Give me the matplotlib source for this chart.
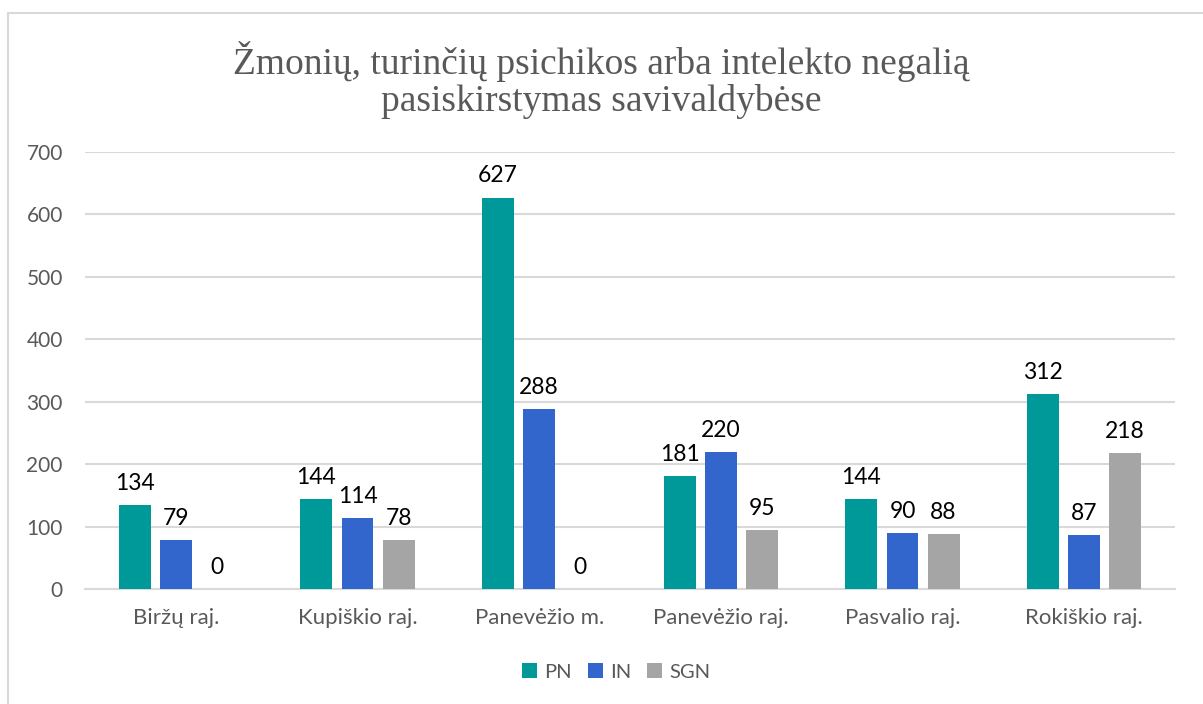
import matplotlib
matplotlib.use("Agg")
import matplotlib.pyplot as plt
import numpy as np
from matplotlib.patches import Rectangle

categories = ["Biržų raj.", "Kupiškio raj.", "Panevėžio m.", "Panevėžio raj.", "Pasvalio raj.", "Rokiškio raj."]
series_names = ["PN", "IN", "SGN"]
pn = [134, 144, 627, 181, 144, 312]
in_ = [79, 114, 288, 220, 90, 87]
sgn = [0, 78, 0, 95, 88, 218]
yticks = [0, 100, 200, 300, 400, 500, 600, 700]
title = "Žmonių, turinčių psichikos arba intelekto negalią\npasiskirstymas savivaldybėse"

colors = ["#009999", "#3366CC", "#A5A5A5"]
label_color = "#595959"
sans = ["Lato", "DejaVu Sans"]

fig = plt.figure(figsize=(12.03, 7.04), dpi=100)
# chart frame
fig.patches.append(Rectangle((8/1203, -0.05), 1.1, 1 - 13/704 + 0.05, transform=fig.transFigure,
                             fill=False, edgecolor="#D9D9D9", linewidth=1.5))

ax = fig.add_axes([85/1203, 1 - 589/704, (1175-85)/1203, (589-152)/704])
x = np.arange(len(categories))
width = 0.176
step = 0.226
data = [pn, in_, sgn]
for i, (vals, name, c) in enumerate(zip(data, series_names, colors)):
    pos = x + (i - 1) * step
    bars = ax.bar(pos, vals, width, color=c, label=name, zorder=3)
    for b, v in zip(bars, vals):
        ax.annotate(str(v), (b.get_x() + b.get_width()/2, v), xytext=(0, 8),
                    textcoords="offset points", ha="center", va="bottom",
                    fontsize=16.5, color="black", family=sans)

ax.set_xlim(-0.5, len(categories) - 0.5)
ax.set_ylim(0, 700)
ax.set_yticks(yticks)
ax.set_yticklabels([str(t) for t in yticks], fontsize=15, color=label_color, family=sans)
ax.set_xticks(x)
ax.set_xticklabels(categories, fontsize=16, color=label_color, family=sans)
ax.tick_params(axis="both", length=0)
ax.tick_params(axis="y", pad=16)
ax.tick_params(axis="x", pad=14)
ax.grid(axis="y", color="#D9D9D9", linewidth=1.5, zorder=0)
for s in ["top", "right", "left"]:
    ax.spines[s].set_visible(False)
ax.spines["bottom"].set_color("#D9D9D9")
ax.spines["bottom"].set_linewidth(1.5)

fig.text(0.5, 1 - 80/704, title, ha="center", va="center", fontsize=27,
         color=label_color, family=["Liberation Serif"], linespacing=1.08)

leg = fig.legend(loc="center", bbox_to_anchor=(616/1203, 1 - 672/704), ncol=3, frameon=False,
                 prop={"family": sans, "size": 14.5}, handlelength=0.75, handleheight=0.75,
                 handletextpad=0.35, columnspacing=0.8)
for t in leg.get_texts():
    t.set_color(label_color)

fig.savefig("out.png", dpi=100)
